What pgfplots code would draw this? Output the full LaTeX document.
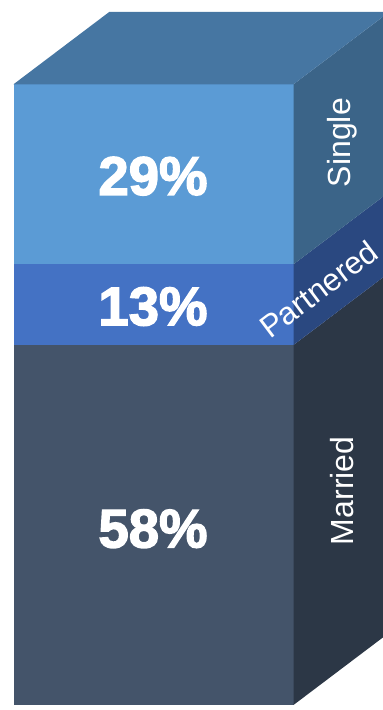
\documentclass[border=0pt]{standalone}
\usepackage{pgfplots}
\pgfplotsset{compat=1.18}
\usepackage{fontspec}
\setmainfont{Liberation Sans}
\newfontfamily\pctfont[FakeBold=2.5]{Liberation Sans Bold}
\definecolor{frontSingle}{HTML}{5B9BD5}
\definecolor{frontPartnered}{HTML}{4472C4}
\definecolor{frontMarried}{HTML}{44546A}
\definecolor{sideSingle}{HTML}{3B6488}
\definecolor{sidePartnered}{HTML}{2A4880}
\definecolor{sideMarried}{HTML}{2C3746}
\definecolor{topFace}{HTML}{4676A2}
\begin{document}
\begin{tikzpicture}
\useasboundingbox (0,0) rectangle (383pt,710pt);
\begin{axis}[
  at={(0,0)}, anchor=south west,
  scale only axis,
  width=383pt, height=710pt,
  xmin=0, xmax=383,
  ymin=-0.806, ymax=113.58,
  hide axis,
  clip=true,
  ybar stacked,
  bar width=280pt,
  bar shift=0pt,
]
% Front of the column: one stacked segment per status
\addplot[fill=frontMarried, draw=none] coordinates {(153.5,58)};
\addplot[fill=frontPartnered, draw=none] coordinates {(153.5,13)};
\addplot[fill=frontSingle, draw=none] coordinates {(153.5,29)};
\end{axis}
\begin{axis}[
  at={(0,0)}, anchor=south west,
  scale only axis,
  width=383pt, height=710pt,
  xmin=0, xmax=383,
  ymin=-0.806, ymax=113.58,
  hide axis,
  clip=true,
]
% Side faces, receding by 96 units across and 11.684 percent upward
\addplot[fill=sideMarried, draw=none] coordinates
  {(293.5,0) (389.5,11.684) (389.5,69.684) (293.5,58)} -- cycle;
\addplot[fill=sidePartnered, draw=none] coordinates
  {(293.5,58) (389.5,69.684) (389.5,82.684) (293.5,71)} -- cycle;
\addplot[fill=sideSingle, draw=none] coordinates
  {(293.5,71) (389.5,82.684) (389.5,111.684) (293.5,100)} -- cycle;
% Top face
\addplot[fill=topFace, draw=none] coordinates
  {(13.5,100) (293.5,100) (389.5,111.684) (109.5,111.684)} -- cycle;

% Percentages on the front
\node[text=white, font=\fontsize{54.5}{54.5}\selectfont\pctfont] at (axis cs:153,85.2) {29\%};
\node[text=white, font=\fontsize{54.5}{54.5}\selectfont\pctfont] at (axis cs:153,64.2) {13\%};
\node[text=white, font=\fontsize{54.5}{54.5}\selectfont\pctfont] at (axis cs:153,28.4) {58\%};

% Category names on the side
\node[text=white, rotate=90, font=\fontsize{32}{32}\selectfont] at (axis cs:342,90.6) {Single};
\node[text=white, rotate=90, font=\fontsize{32}{32}\selectfont] at (axis cs:342,34.5) {Married};
\node[text=white, rotate=37, font=\fontsize{31.5}{31.5}\selectfont] at (axis cs:318.5,67) {Partnered};
\end{axis}
\end{tikzpicture}
\end{document}
